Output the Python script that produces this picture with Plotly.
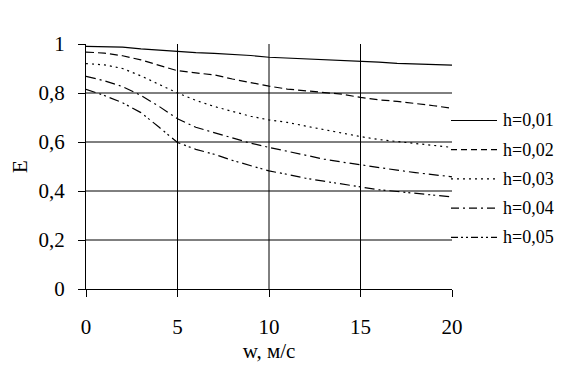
import plotly.graph_objects as go

w = list(range(0, 21))
h_labels = ["h=0,01", "h=0,02", "h=0,03", "h=0,04", "h=0,05"]
E_001 = [0.99, 0.99, 0.987, 0.98, 0.975, 0.968, 0.965, 0.962, 0.958, 0.953, 0.946,
         0.943, 0.94, 0.937, 0.935, 0.93, 0.926, 0.921, 0.918, 0.916, 0.914]
E_002 = [0.967, 0.963, 0.952, 0.935, 0.913, 0.891, 0.882, 0.874, 0.857, 0.842, 0.828,
         0.816, 0.808, 0.80, 0.795, 0.782, 0.772, 0.766, 0.758, 0.748, 0.738]
E_003 = [0.92, 0.915, 0.90, 0.87, 0.835, 0.80, 0.77, 0.745, 0.725, 0.705, 0.69,
         0.68, 0.665, 0.65, 0.635, 0.622, 0.61, 0.602, 0.595, 0.588, 0.578]
E_004 = [0.868, 0.85, 0.826, 0.79, 0.745, 0.695, 0.66, 0.638, 0.615, 0.595, 0.578,
         0.562, 0.545, 0.53, 0.518, 0.506, 0.495, 0.485, 0.475, 0.467, 0.458]
E_005 = [0.815, 0.79, 0.76, 0.72, 0.66, 0.598, 0.57, 0.55, 0.525, 0.505, 0.482,
         0.468, 0.452, 0.44, 0.428, 0.415, 0.405, 0.398, 0.39, 0.383, 0.376]
series = [E_001, E_002, E_003, E_004, E_005]

x_ticks = [0, 5, 10, 15, 20]
y_ticks = [0, 0.2, 0.4, 0.6, 0.8, 1]
y_tick_text = ["0", "0,2", "0,4", "0,6", "0,8", "1"]
x_grid = [5, 10, 15]
y_grid = [0.2, 0.4, 0.6, 0.8]

dashes = ["solid", "8px,4px", "2px,4px", "10px,4px,2px,4px", "10px,4px,2px,3px,2px,4px"]
legend_dashes = ["solid", "6px,4px", "2px,4px", "8px,4px,2px,4px", "7px,3px,2px,3px,2px,3px"]

FONT = "Liberation Serif"

# plot area in page pixels: x 86..452, y 44..289 (page has 8px body margin)
PX_L, PX_R, PX_T, PX_B = 86.0, 452.0, 44.0, 289.0
def px_to_paper_x(px):
    return (px - PX_L) / (PX_R - PX_L)
def px_to_paper_y(py):
    return (PX_B - py) / (PX_B - PX_T)

fig = go.Figure()
for i, (name, ys) in enumerate(zip(h_labels, series)):
    fig.add_trace(go.Scatter(
        x=w, y=ys, mode="lines", name=name, showlegend=False,
        line=dict(color="black", width=1.2, dash=dashes[i]),
    ))

shapes = []
for xv in x_grid:
    shapes.append(dict(type="line", xref="x", yref="paper", x0=xv, x1=xv, y0=0, y1=1,
                       line=dict(color="black", width=1), layer="below"))
for yv in y_grid:
    shapes.append(dict(type="line", xref="paper", yref="y", x0=0, x1=1, y0=yv, y1=yv,
                       line=dict(color="black", width=1), layer="below"))

# legend (key lines + labels) at the right of the plot
annotations = []
leg_rows_px = [120.5, 149.7, 178.9, 208.1, 237.3]
for i, name in enumerate(h_labels):
    yy = px_to_paper_y(leg_rows_px[i])
    shapes.append(dict(type="line", xref="paper", yref="paper",
                       x0=px_to_paper_x(451), x1=px_to_paper_x(497), y0=yy, y1=yy,
                       line=dict(color="black", width=1.2, dash=legend_dashes[i])))
    annotations.append(dict(xref="paper", yref="paper", x=px_to_paper_x(501), y=yy,
                            xanchor="left", yanchor="middle", showarrow=False, text=name,
                            font=dict(family=FONT, size=18, color="black")))

fig.update_layout(
    width=559, height=364,
    margin=dict(l=78, r=115, t=36, b=83),
    paper_bgcolor="white", plot_bgcolor="white",
    font=dict(family=FONT, color="black", size=21),
    showlegend=False,
    shapes=shapes,
    annotations=annotations,
    xaxis=dict(
        range=[0, 20], tickmode="array", tickvals=x_ticks, ticktext=[str(v) for v in x_ticks],
        showgrid=False, zeroline=False, showline=True, linecolor="black", linewidth=1,
        ticks="outside", ticklen=7, tickcolor="black", tickwidth=1,
        tickfont=dict(family=FONT, size=21), ticklabelstandoff=12,
        title=dict(text="w, м/с", font=dict(family=FONT, size=21), standoff=0),
        fixedrange=True,
    ),
    yaxis=dict(
        range=[0, 1], tickmode="array", tickvals=y_ticks, ticktext=y_tick_text,
        showgrid=False, zeroline=False, showline=True, linecolor="black", linewidth=1,
        ticks="outside", ticklen=7, tickcolor="black", tickwidth=1,
        tickfont=dict(family=FONT, size=21), ticklabelstandoff=9,
        title=dict(text="E", font=dict(family=FONT, size=21), standoff=5),
        fixedrange=True,
    ),
)

fig.write_html("out.html")
